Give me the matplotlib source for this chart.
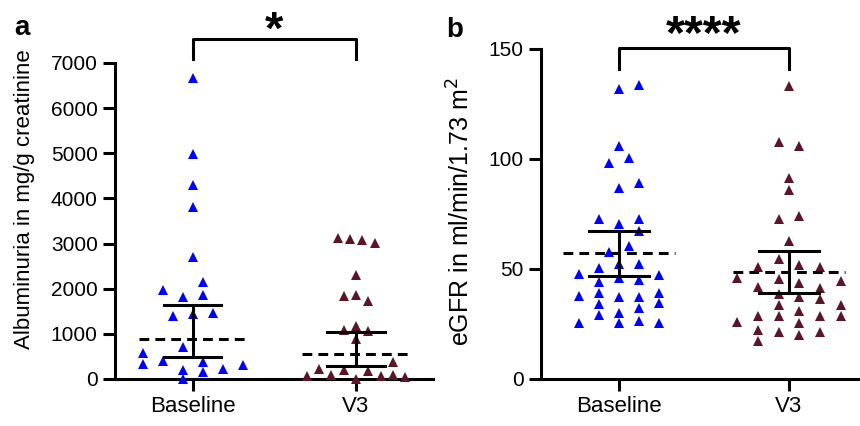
import numpy as np
import matplotlib.pyplot as plt

plt.rcParams['font.family'] = ['Liberation Sans', 'DejaVu Sans']

groups = ["Baseline", "V3"]
col_blue = "#0000ff"
col_red = "#5a1628"

# panel a: albuminuria (mg/g creatinine)
alb_base = [6670, 4985, 4290, 3810, 2695, 2150, 1980, 1815, 1855, 1390, 1440, 1460,
            700, 575, 330, 390, 370, 205, 150, 220, 320, 10]
alb_base_dx = [0, 0, 0, 0, 0, 1, -3, -1, 1, -2, 0, 2, -1, -5, -5, -3, 1, -1, 1, 3, 5, -1]
alb_v3 = [3125, 3100, 3085, 3015, 2310, 1830, 1855, 1735, 1080, 1180, 1055, 885,
          385, 220, 190, 170, 75, 95, 10, 60, 95, 40]
alb_v3_dx = [-1.5, -0.5, 0.5, 1.5, 0, -1, 0, 1, -1, 0, 1, 0, 3, -3, -1, 1, -4, -2, 0, 2, 3, 4]
alb_median = [885, 545]
alb_lo = [490, 280]
alb_hi = [1650, 1050]

# panel b: eGFR (ml/min/1.73 m2)
egfr_base = [131.6, 133.5, 105.9, 98.3, 100.6, 86.6, 89.3, 72.9, 70.4, 72.6, 67.5, 60.4,
             57.9, 52.3, 52.3, 50.5, 47.6, 47.4, 45.7, 43.9, 45.0, 37.8, 39.3, 37.5,
             37.5, 39.3, 34.3, 30.2, 32.5, 34.5, 29.0, 25.3, 25.6, 26.4, 25.3]
egfr_base_dx = [0, 1, 0, -0.5, 0.5, 0, 1, -1, 0, 1, 1, 0.5, -0.5, 0, 1, -1, -2, 2, 0, -1,
                1, -2, -1, 0, 1, 2, -1, 0, 1, 2, -1, -2, 0, 1, 2]
egfr_v3 = [133.1, 107.9, 105.9, 91.2, 86.1, 72.6, 74.1, 62.7, 54.6, 50.8, 51.8, 50.8,
           45.7, 45.4, 44.7, 41.9, 43.6, 41.5, 38.6, 37.5, 36.3, 33.5, 33.5, 30.9,
           28.7, 28.7, 28.7, 28.7, 26.1, 25.6, 22.1, 21.3, 20.0, 21.3, 17.1]
egfr_v3_dx = [0, -0.5, 0.5, 0, 0, -0.5, 0.5, 0, -0.5, -1.5, 0.5, 1.5, -2.5, -0.5, 2.5,
              -1.5, 0.5, 1.5, -0.5, 0.5, 1.5, -0.5, 2.5, 0.5, -1.5, -0.5, 1.5, 2.5,
              -2.5, 0.5, -1.5, -0.5, 0.5, 1.5, -1.5]
egfr_median = [57.2, 48.5]
egfr_lo = [47.0, 38.9]
egfr_hi = [67.2, 58.1]

fig = plt.figure(figsize=(8.6, 4.26), dpi=100)
ax1 = fig.add_axes([115/860, 1-379/426, 318/860, 316/426])
ax2 = fig.add_axes([541/860, 1-379/426, 326/860, 330/426])


def panel(ax, base, bdx, bstep, v3, v3dx, vstep, med, lo, hi):
    ax.plot(np.array(bdx)*bstep, base, '^', color=col_blue, ms=7.5, mew=0, clip_on=False, zorder=3)
    ax.plot(1 + np.array(v3dx)*vstep, v3, '^', color=col_red, ms=7.5, mew=0, clip_on=False, zorder=3)
    for i in range(2):
        ax.plot([i-0.33, i+0.33], [med[i], med[i]], color='black', lw=2.2,
                dashes=(3.2, 2.0), zorder=4)
        ax.plot([i, i], [lo[i], hi[i]], color='black', lw=2.2, zorder=4)
        ax.plot([i-0.175, i+0.175], [lo[i], lo[i]], color='black', lw=2.2, zorder=4)
        ax.plot([i-0.175, i+0.175], [hi[i], hi[i]], color='black', lw=2.2, zorder=4)
    for s in ['top', 'right']:
        ax.spines[s].set_visible(False)
    for s in ['left', 'bottom']:
        ax.spines[s].set_linewidth(2.2)
    ax.tick_params(width=2.2, length=8.5, colors='black', pad=4)
    ax.tick_params(axis='y', labelsize=15)
    ax.tick_params(axis='x', labelsize=16)
    ax.set_xticks([0, 1])
    ax.set_xticklabels(groups)


panel(ax1, alb_base, alb_base_dx, 0.0613, alb_v3, alb_v3_dx, 0.0757, alb_median, alb_lo, alb_hi)
ax1.set_xlim(-0.478, 1.472)
ax1.set_ylim(0, 7000)
ax1.set_yticks(range(0, 7001, 1000))
ax1.set_ylabel("Albuminuria in mg/g creatinine", fontsize=16, va='center', ha='center')
ax1.yaxis.set_label_coords(-0.286, 0.57)

panel(ax2, egfr_base, egfr_base_dx, 0.1176, egfr_v3, egfr_v3_dx, 0.1216, egfr_median, egfr_lo, egfr_hi)
ax2.set_xlim(-0.459, 1.459)
ax2.set_ylim(0, 150)
ax2.set_yticks([0, 50, 100, 150])
ax2.set_ylabel("eGFR in ml/min/1.73 m$^2$", fontsize=18, va='center', ha='center')
ax2.yaxis.set_label_coords(-0.245, 0.506)

# significance brackets
ax1.plot([0, 0, 1, 1], [7090, 7532, 7532, 7090], color='black', lw=2.2, clip_on=False)
ax1.text(0.5, 7430, "*", ha='center', va='baseline', fontsize=34, fontweight='bold')
ax2.plot([0, 0, 1, 1], [140.9, 150.5, 150.5, 140.9], color='black', lw=2.2, clip_on=False)
ax2.text(0.5, 150.6, "****", ha='center', va='baseline', fontsize=35, fontweight='bold')

fig.text(22/860, 1-28/426, "a", fontsize=20, fontweight='bold', ha='center', va='center')
fig.text(455/860, 1-30/426, "b", fontsize=20, fontweight='bold', ha='center', va='center')

fig.savefig("out.png", dpi=100)
